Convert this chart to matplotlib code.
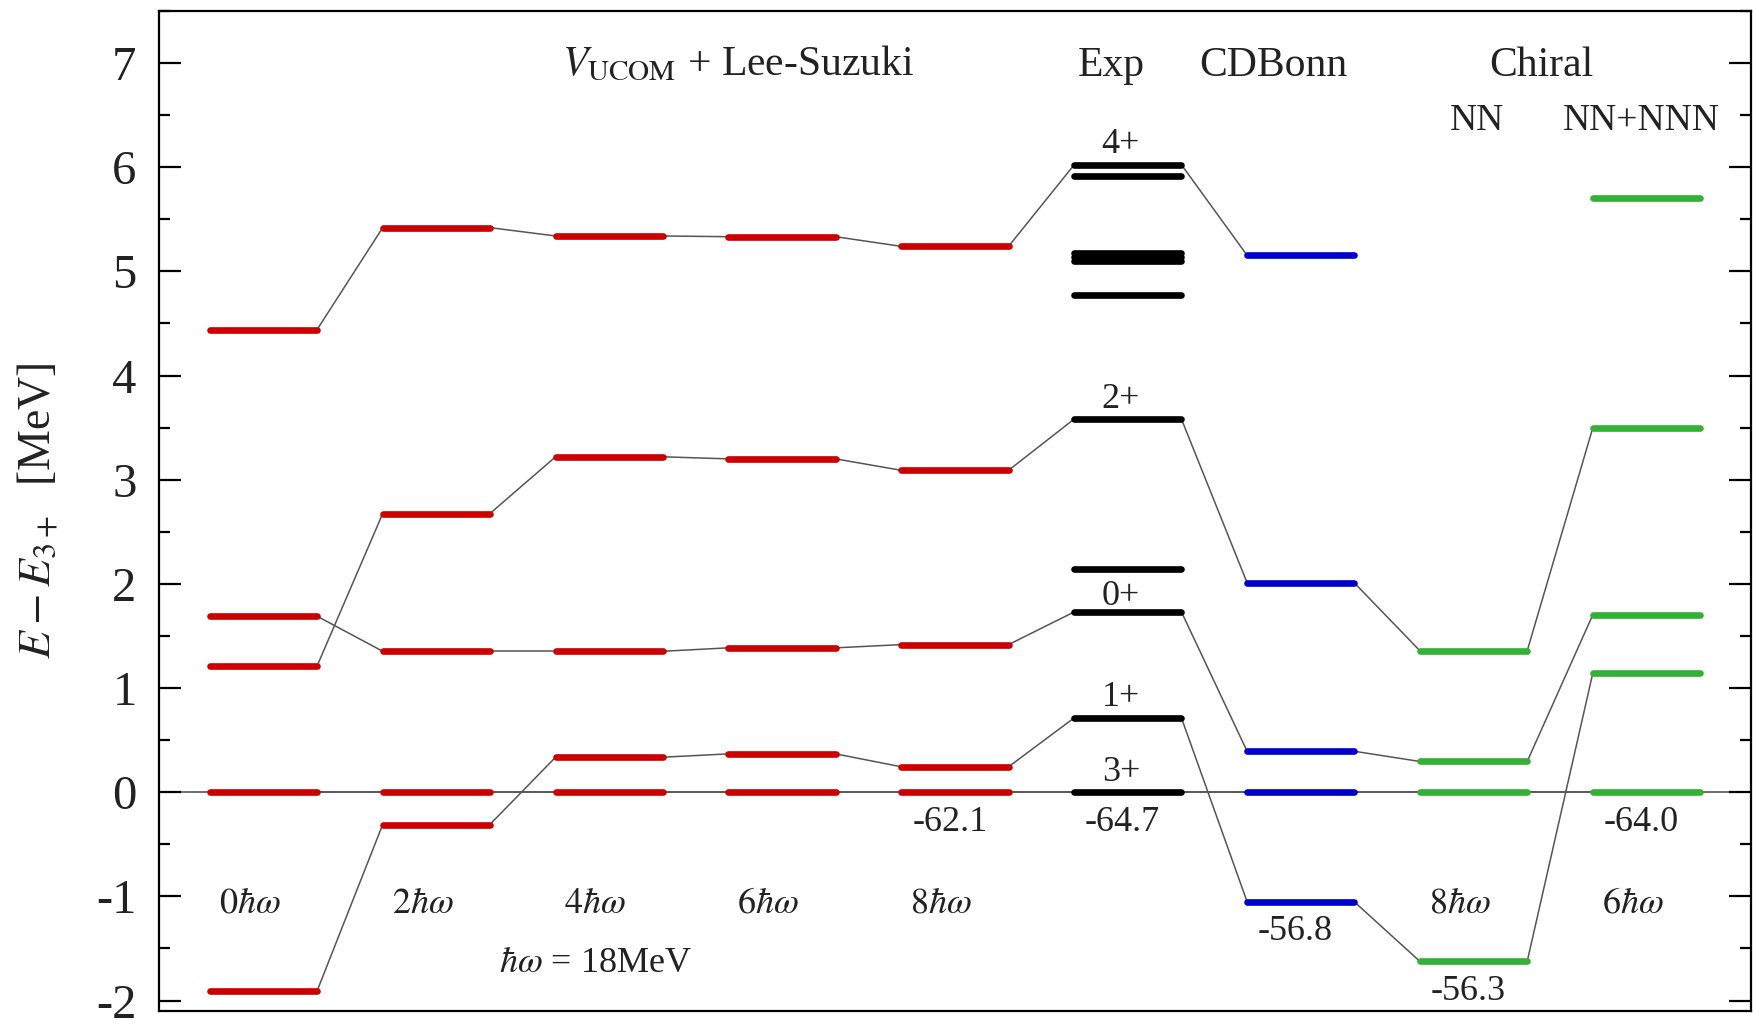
import matplotlib.pyplot as plt
from matplotlib.ticker import MultipleLocator

plt.rcParams['font.family'] = ['Liberation Serif', 'DejaVu Serif']
plt.rcParams['mathtext.fontset'] = 'stix'
plt.rcParams['axes.unicode_minus'] = False

# Colunas: V_UCOM 0..8 hw, Exp, CDBonn, Chiral NN, Chiral NN+NNN
col_labels = [r'$0\hbar\omega$', r'$2\hbar\omega$', r'$4\hbar\omega$', r'$6\hbar\omega$',
              r'$8\hbar\omega$', '', '', r'$8\hbar\omega$', r'$6\hbar\omega$']
gs_energy = ['', '', '', '', '-62.1', '-64.7', '-56.8', '-56.3', '-64.0']

# Energias de excitacao (MeV) por estado, uma por coluna
state_3p = [0.0, 0.0, 0.0, 0.0, 0.0, 0.0, 0.0, 0.0, 0.0]
state_1p = [-1.91, -0.31, 0.336, 0.368, 0.244, 0.714, -1.052, -1.625, 1.146]
state_0p = [1.69, 1.353, 1.353, 1.386, 1.417, 1.731, 0.393, 0.295, 1.705]
state_2p = [1.21, 2.675, 3.22, 3.20, 3.09, 3.583, 2.01, 1.357, 3.50]
state_4p = [4.44, 5.42, 5.34, 5.333, 5.24, 6.024, 5.154, None, None]

# Niveis sem ligacao
exp_other = [2.147, 4.776, 5.10, 5.14, 5.18, 5.918]
nnn_other = [5.705]

exp_spins = ['3+', '1+', '0+', '2+', '4+']

cores = ['#cc0000'] * 5 + ['black', '#0000cc', '#33b035', '#33b035']
hw = 0.31
lw_nivel = 4.8

fig = plt.figure(figsize=(17.53, 10.25), dpi=100)
ax = fig.add_axes([0.0906, 0.0137, 0.9083, 0.9756])

ax.axhline(0, color='#444444', lw=1.1, zorder=1)

estados = [state_3p, state_1p, state_0p, state_2p, state_4p]
for st in estados:
    # linhas finas de ligacao
    for i in range(len(st) - 1):
        if st[i] is None or st[i + 1] is None:
            continue
        ax.plot([i + hw, i + 1 - hw], [st[i], st[i + 1]], color='#555555', lw=1.1, zorder=2)
    # niveis
    for i, v in enumerate(st):
        if v is None:
            continue
        ax.plot([i - hw, i + hw], [v, v], color=cores[i], lw=lw_nivel,
                solid_capstyle='round', zorder=3)

for v in exp_other:
    ax.plot([5 - hw, 5 + hw], [v, v], color=cores[5], lw=lw_nivel, solid_capstyle='round', zorder=3)
for v in nnn_other:
    ax.plot([8 - hw, 8 + hw], [v, v], color=cores[8], lw=lw_nivel, solid_capstyle='round', zorder=3)

# spins experimentais
exp_vals = [state_3p[5], state_1p[5], state_0p[5], state_2p[5], state_4p[5]]
for s, v in zip(exp_spins, exp_vals):
    dy = 0.07 if s == '0+' else 0.11
    ax.text(4.96, v + dy, s, ha='center', va='baseline', fontsize=26, color='#222222')

# energias do estado fundamental
for i, lab in enumerate(gs_energy):
    if lab == '':
        continue
    vals = [st[i] for st in estados if st[i] is not None]
    ax.text(i - 0.03, min(vals) - 0.37, lab, ha='center', va='baseline', fontsize=26, color='#222222')

# rotulos das colunas
for i, lab in enumerate(col_labels):
    if lab:
        ax.text(i - 0.08, -1.157, lab, ha='center', va='baseline', fontsize=26, color='#222222')

ax.text(1.92, -1.73, r'$\hbar\omega$ = 18MeV', ha='center', va='baseline', fontsize=26, color='#222222')

ax.text(2.744, 6.88, r'$V_{\mathrm{UCOM}}$ + Lee-Suzuki', ha='center', va='baseline', fontsize=30, color='#222222')
ax.text(4.905, 6.88, 'Exp', ha='center', va='baseline', fontsize=30, color='#222222')
ax.text(5.84, 6.88, 'CDBonn', ha='center', va='baseline', fontsize=30, color='#222222')
ax.text(7.39, 6.88, 'Chiral', ha='center', va='baseline', fontsize=30, color='#222222')
ax.text(7.02, 6.355, 'NN', ha='center', va='baseline', fontsize=27, color='#222222')
ax.text(7.97, 6.355, 'NN+NNN', ha='center', va='baseline', fontsize=27, color='#222222')

ax.set_xlim(-0.605, 8.605)
ax.set_ylim(-2.1, 7.5)
ax.set_xticks([])
ax.yaxis.set_major_locator(MultipleLocator(1))
ax.yaxis.set_minor_locator(MultipleLocator(0.5))
ax.tick_params(axis='y', which='both', direction='in', left=True, right=True, width=1.6, pad=16,
               labelsize=35, labelcolor='#222222')
ax.tick_params(axis='y', which='major', length=15.5)
ax.tick_params(axis='y', which='minor', length=8)
for sp in ax.spines.values():
    sp.set_linewidth(1.6)

ax.set_ylabel(r'$E - E_{3+}$  [MeV]', fontsize=33, color='#222222')
ax.yaxis.set_label_coords(-0.062, 0.5)

fig.savefig('out.png', dpi=100)
